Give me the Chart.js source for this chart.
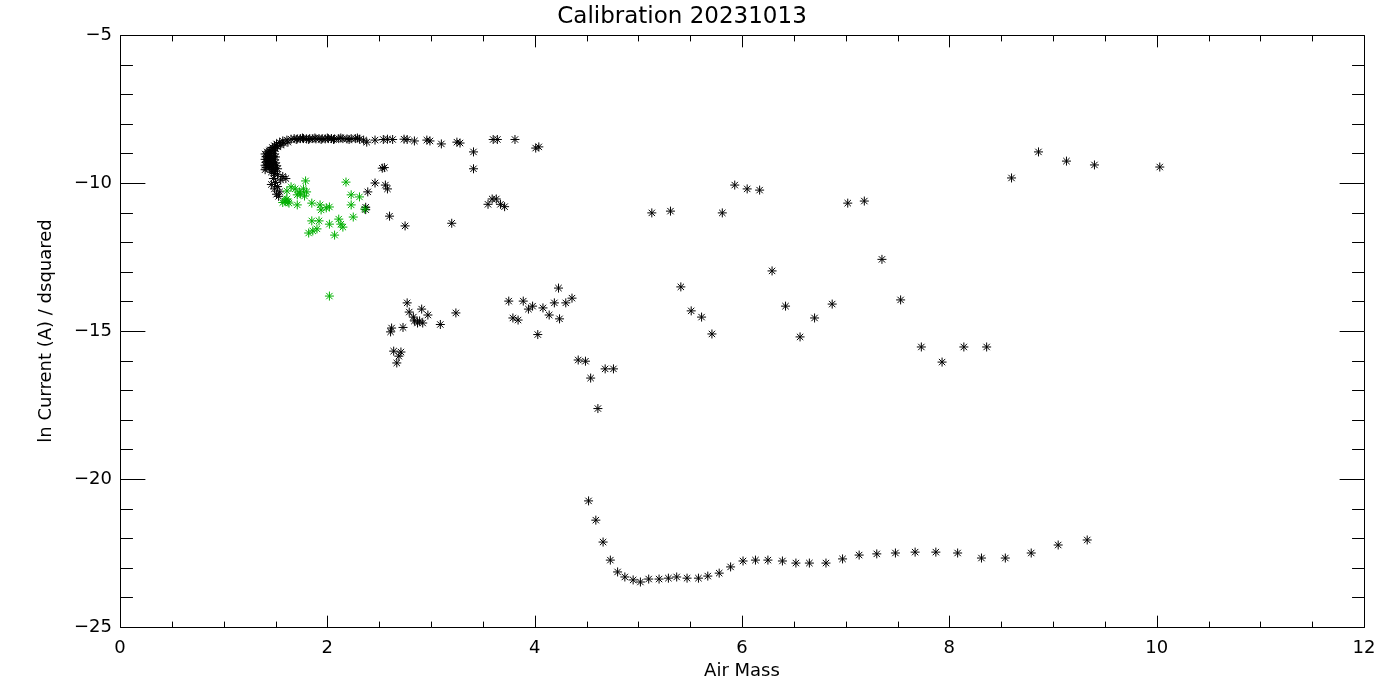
<!DOCTYPE html>
<html>
<head>
<meta charset="utf-8">
<script src="https://cdn.jsdelivr.net/npm/chart.js@4/dist/chart.umd.min.js"></script>
<style>
html,body{margin:0;padding:0;background:#fff;}
#wrap{width:1400px;height:700px;position:relative;}
</style>
</head>
<body>
<div id="wrap"><canvas id="c"></canvas></div>
<script>
// ---- data (air mass, ln current / dsquared) ----
const blackHook = [
  [1.42,-8.95],[1.44,-9.00],[1.43,-9.05],[1.45,-9.08],[1.42,-9.12],[1.44,-9.15],[1.46,-9.18],[1.43,-9.22],
  [1.45,-9.25],[1.42,-9.28],[1.47,-9.30],[1.44,-9.34],[1.43,-9.38],[1.46,-9.40],[1.45,-9.44],[1.48,-9.47],
  [1.44,-9.50],[1.47,-9.55],[1.50,-9.60],[1.46,-9.63],[1.49,-9.68],[1.52,-9.72],
  [1.40,-9.02],[1.41,-9.10],[1.40,-9.20],[1.41,-9.30],[1.40,-9.40],[1.41,-9.48],[1.40,-9.55],
  [1.49,-9.02],[1.50,-9.12],[1.49,-9.22],[1.50,-9.32],[1.51,-9.42],[1.52,-9.52],[1.48,-9.10],[1.48,-9.36],
  [1.44,-8.92],[1.46,-8.96],[1.48,-8.90],[1.50,-8.84],[1.52,-8.78],[1.55,-8.72],[1.58,-8.66],[1.62,-8.62],
  [1.45,-8.88],[1.47,-8.80],[1.49,-8.74],[1.51,-8.68],[1.54,-8.63],[1.57,-8.58],[1.61,-8.55],[1.65,-8.52],
  [1.68,-8.50],[1.71,-8.51],[1.74,-8.50],[1.77,-8.50],[1.80,-8.51],[1.83,-8.50],[1.86,-8.50],[1.89,-8.51],
  [1.92,-8.50],[1.95,-8.50],[1.98,-8.51],[2.01,-8.50],[2.04,-8.50],[2.07,-8.51],[2.11,-8.50],[2.15,-8.50],
  [2.19,-8.51],[2.23,-8.50],[2.27,-8.50],[2.31,-8.52],[2.35,-8.55],[2.38,-8.62],
  [1.70,-8.53],[1.76,-8.48],[1.82,-8.53],[1.88,-8.48],[1.94,-8.53],[2.00,-8.48],[2.06,-8.53],[2.13,-8.48],
  [2.21,-8.53],[2.29,-8.48],
  [2.46,-8.55],[2.54,-8.53],[2.58,-8.52],[2.63,-8.53],[2.74,-8.52],[2.77,-8.53],[2.84,-8.58],[2.96,-8.55],
  [2.99,-8.58],[3.10,-8.68],[3.25,-8.62],[3.28,-8.65],[3.41,-8.95],[3.60,-8.53],[3.64,-8.53],[3.81,-8.53],
  [4.01,-8.82],[4.04,-8.78],
  [1.46,-10.05],[1.50,-9.98],[1.52,-10.12],[1.49,-10.20],[1.54,-10.30],[1.51,-10.38],[1.53,-10.45],
  [1.57,-9.78],[1.60,-9.85],[1.55,-9.90],[1.48,-9.85]
];
const blackUpper = [
  [2.53,-9.50],[2.55,-9.48],[2.46,-10.00],[2.56,-10.07],[2.58,-10.20],[2.39,-10.30],[2.37,-10.82],[2.37,-10.90],
  [2.60,-11.12],[2.75,-11.45],[3.20,-11.36],[3.41,-9.52],[3.59,-10.54],[3.63,-10.54],[3.55,-10.72],[3.67,-10.72],
  [3.71,-10.80]
];
const blackMiddle = [
  [2.77,-14.05],[2.79,-14.36],[2.91,-14.26],[2.97,-14.46],[2.83,-14.53],[2.84,-14.66],[2.87,-14.73],[2.92,-14.73],
  [2.89,-14.66],[2.73,-14.88],[2.62,-14.90],[2.61,-15.03],[3.09,-14.78],[3.24,-14.39],[2.64,-15.68],[2.71,-15.71],
  [2.69,-15.85],[2.67,-16.08],
  [3.75,-13.99],[3.89,-13.99],[3.98,-14.16],[3.94,-14.26],[4.08,-14.22],[4.19,-14.05],[4.23,-13.55],[4.30,-14.05],
  [4.36,-13.89],[4.14,-14.46],[4.24,-14.59],[3.79,-14.56],[3.84,-14.63],[4.03,-15.12],[4.42,-15.98],[4.49,-16.02],
  [4.54,-16.59],[4.61,-17.62],[4.68,-16.28],[4.76,-16.28]
];
const blackRight = [
  [5.13,-11.01],[5.31,-10.95],[5.81,-11.01],[5.93,-10.07],[6.05,-10.20],[6.17,-10.24],[7.02,-10.68],[7.18,-10.61],
  [5.41,-13.51],[5.51,-14.32],[5.61,-14.53],[5.71,-15.10],[6.29,-12.97],[6.42,-14.16],[6.56,-15.20],[6.70,-14.56],
  [6.87,-14.09],[7.35,-12.58],[7.53,-13.95],[7.73,-15.54],[7.93,-16.05],[8.14,-15.54],[8.36,-15.54],
  [8.60,-9.83],[8.86,-8.95],[9.13,-9.26],[9.40,-9.39],[10.03,-9.46]
];
const blackBottom = [
  [4.52,-20.74],[4.59,-21.39],[4.66,-22.13],[4.73,-22.74],[4.80,-23.14],[4.87,-23.31],[4.95,-23.41],[5.02,-23.48],
  [5.10,-23.38],[5.20,-23.38],[5.29,-23.35],[5.37,-23.31],[5.47,-23.35],[5.58,-23.35],[5.67,-23.28],[5.78,-23.18],
  [5.89,-22.97],[6.01,-22.77],[6.13,-22.74],[6.25,-22.74],[6.39,-22.77],[6.52,-22.84],[6.65,-22.84],[6.81,-22.84],
  [6.97,-22.70],[7.13,-22.57],[7.30,-22.53],[7.48,-22.50],[7.67,-22.47],[7.87,-22.47],[8.08,-22.50],[8.31,-22.67],
  [8.54,-22.67],[8.79,-22.50],[9.05,-22.23],[9.33,-22.06]
];
const greenPoints = [
  [1.79,-9.93],[2.18,-9.97],[1.65,-10.13],[1.69,-10.20],[1.61,-10.27],[1.73,-10.30],[1.77,-10.20],[1.74,-10.37],
  [1.78,-10.44],[1.80,-10.30],[1.71,-10.40],[1.61,-10.54],[1.59,-10.61],[1.63,-10.68],[1.57,-10.66],[1.60,-10.58],
  [1.62,-10.64],[1.71,-10.74],[1.85,-10.68],[1.93,-10.74],[1.99,-10.84],[2.02,-10.81],[1.94,-10.91],[2.23,-10.40],
  [2.31,-10.47],[2.23,-10.74],[2.25,-11.15],[2.36,-10.88],[1.85,-11.28],[1.92,-11.28],[2.02,-11.39],[2.11,-11.22],
  [2.13,-11.39],[2.15,-11.49],[1.90,-11.55],[1.82,-11.69],[1.86,-11.62],[2.07,-11.76],[2.02,-13.82]
];
const xTickValues = [0, 2, 4, 6, 8, 10, 12];
const yTickValues = [-25, -20, -15, -10, -5];
const titleText = 'Calibration 20231013';
const xTitle = 'Air Mass';
const yTitle = 'ln Current (A) / dsquared';

const toXY = arr => arr.map(p => ({x: p[0], y: p[1]}));
const blackAll = [].concat(blackHook, blackUpper, blackMiddle, blackRight, blackBottom);

const FONT = "'DejaVu Sans', 'Liberation Sans', sans-serif";

// IDL-style box with inward ticks on all four sides
const boxTicks = {
  id: 'boxTicks',
  afterDatasetsDraw(chart) {
    const {ctx, chartArea: a, scales: {x, y}} = chart;
    ctx.save();
    ctx.strokeStyle = '#000';
    ctx.lineWidth = 1;
    const L = Math.round(a.left) + 0.5, R = Math.round(a.right) + 0.5;
    const T = Math.round(a.top) + 0.5, B = Math.round(a.bottom) + 0.5;
    ctx.beginPath();
    ctx.rect(L, T, R - L, B - T);
    const h = B - T, w = R - L;
    const xMaj = 0.02 * h, yMaj = 0.02 * w;
    for (let i = 0; i <= 24; i++) {
      const v = i * 0.5;
      const px = Math.round(x.getPixelForValue(v)) + 0.5;
      const len = (i % 4 === 0) ? xMaj : xMaj / 2;
      ctx.moveTo(px, B); ctx.lineTo(px, B - len);
      ctx.moveTo(px, T); ctx.lineTo(px, T + len);
    }
    for (let i = 0; i <= 20; i++) {
      const v = -25 + i;
      const py = Math.round(y.getPixelForValue(v)) + 0.5;
      const len = (i % 5 === 0) ? yMaj : yMaj / 2;
      ctx.moveTo(L, py); ctx.lineTo(L + len, py);
      ctx.moveTo(R, py); ctx.lineTo(R - len, py);
    }
    ctx.stroke();
    ctx.restore();
  }
};

new Chart(document.getElementById('c'), {
  type: 'scatter',
  data: {
    datasets: [
      {
        label: 'green',
        data: toXY(greenPoints),
        pointStyle: 'star',
        pointRadius: 4.5,
        borderColor: '#00b000',
        backgroundColor: '#00b000',
        borderWidth: 1,
        order: 0
      },
      {
        label: 'black',
        data: toXY(blackAll),
        pointStyle: 'star',
        pointRadius: 4.5,
        borderColor: '#000',
        backgroundColor: '#000',
        borderWidth: 1,
        order: 1
      }
    ]
  },
  options: {
    responsive: true,
    maintainAspectRatio: false,
    animation: false,
    layout: {padding: {left: 0, right: 36, top: 0, bottom: 0}},
    plugins: {
      legend: {display: false},
      tooltip: {enabled: false},
      title: {
        display: true,
        text: titleText,
        color: '#000',
        font: {family: FONT, size: 23, weight: 'normal', lineHeight: 1},
        padding: {top: 6, bottom: 6}
      }
    },
    scales: {
      x: {
        type: 'linear',
        min: 0, max: 12,
        afterBuildTicks(s) { s.ticks = xTickValues.map(v => ({value: v})); },
        afterFit(s) { s.height = 73; },
        grid: {display: false, drawTicks: false},
        border: {display: false},
        ticks: {
          color: '#000',
          padding: 11,
          maxRotation: 0,
          font: {family: FONT, size: 18},
          callback: v => String(v)
        },
        title: {
          display: true,
          text: xTitle,
          color: '#000',
          font: {family: FONT, size: 18},
          padding: {top: 0, bottom: 18}
        }
      },
      y: {
        type: 'linear',
        min: -25, max: -5,
        afterBuildTicks(s) { s.ticks = yTickValues.map(v => ({value: v})); },
        afterFit(s) { s.width = 120; },
        grid: {display: false, drawTicks: false},
        border: {display: false},
        ticks: {
          color: '#000',
          padding: 8,
          font: {family: FONT, size: 18},
          callback: v => (v < 0 ? '\u2212' + Math.abs(v) : String(v))
        },
        title: {
          display: true,
          text: yTitle,
          color: '#000',
          font: {family: FONT, size: 18},
          padding: {top: 36, bottom: 0}
        }
      }
    }
  },
  plugins: [boxTicks]
});
</script>
</body>
</html>
